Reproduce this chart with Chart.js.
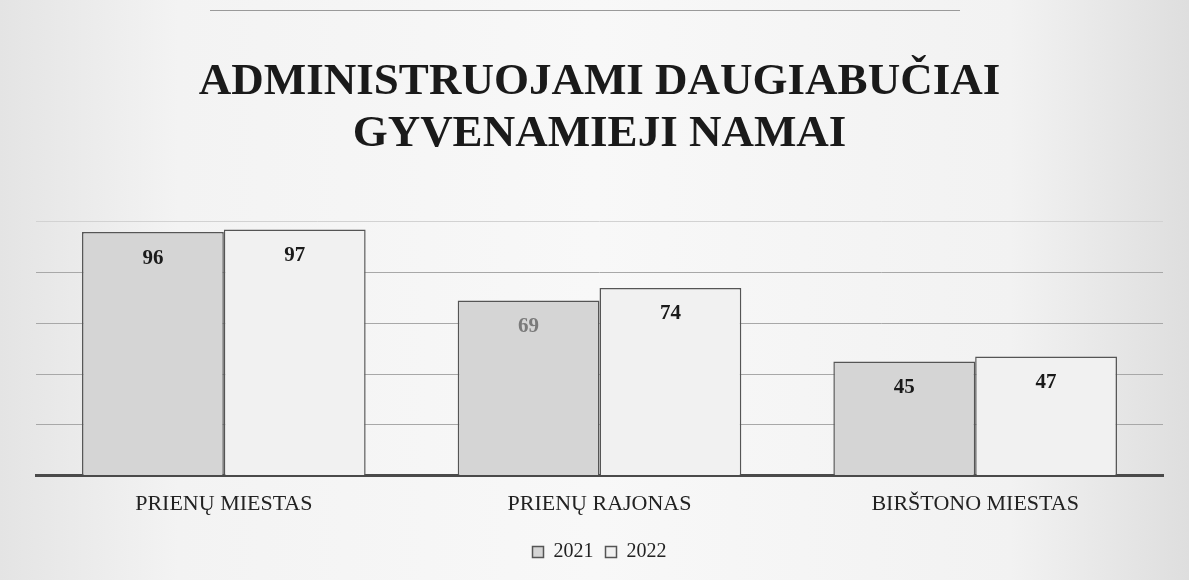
<!DOCTYPE html>
<html>
<head>
<meta charset="utf-8">
<script src="https://cdn.jsdelivr.net/npm/chart.js@4"></script>
<style>
  html, body { margin: 0; padding: 0; background: #eeeeee; }
  #wrap { width: 1189px; height: 580px; }
</style>
</head>
<body>
<div id="wrap"><canvas id="chart" width="1189" height="580"></canvas></div>
<script>
const categories = ['PRIENŲ MIESTAS', 'PRIENŲ RAJONAS', 'BIRŠTONO MIESTAS'];
const seriesNames = ['2021', '2022'];
const values2021 = [96, 69, 45];
const values2022 = [97, 74, 47];
const titleLines = ['ADMINISTRUOJAMI DAUGIABUČIAI', 'GYVENAMIEJI NAMAI'];

const serif = '"Liberation Serif", "Times New Roman", serif';

// scanned-paper background
const paperBg = {
    id: 'paperBg',
    beforeDraw(chart) {
        const c = chart.ctx;
        const w = chart.width, h = chart.height;
        const g = c.createLinearGradient(0, 0, w, 0);
        g.addColorStop(0, '#e4e4e4');
        g.addColorStop(0.15, '#f3f3f3');
        g.addColorStop(0.5, '#f8f8f8');
        g.addColorStop(0.85, '#f2f2f2');
        g.addColorStop(1, '#dedede');
        c.save();
        c.fillStyle = g;
        c.fillRect(0, 0, w, h);
        // thin line at the very top of the scan
        c.strokeStyle = '#9a9a9a';
        c.lineWidth = 1;
        c.beginPath();
        c.moveTo(210, 10.5);
        c.lineTo(960, 10.5);
        c.stroke();
        c.restore();
    }
};

// value labels inside the top of each bar
const barValues = {
    id: 'barValues',
    afterDatasetsDraw(chart) {
        const c = chart.ctx;
        c.save();
        c.font = 'bold 21px ' + serif;
        c.textAlign = 'center';
        c.textBaseline = 'middle';
        chart.data.datasets.forEach((ds, i) => {
            chart.getDatasetMeta(i).data.forEach((bar, j) => {
                c.fillStyle = (i === 0 && j === 1) ? '#7a7a7a' : '#1a1a1a';
                c.fillText(ds.data[j], bar.x, bar.y + 26);
            });
        });
        c.restore();
    }
};

new Chart(document.getElementById('chart'), {
    type: 'bar',
    data: {
        labels: categories,
        datasets: [{
            label: seriesNames[0],
            data: values2021,
            backgroundColor: '#d5d5d5',
            borderColor: '#555',
            borderWidth: 1.5,
            categoryPercentage: 0.755,
            barPercentage: 1
        }, {
            label: seriesNames[1],
            data: values2022,
            backgroundColor: '#f1f1f1',
            borderColor: '#555',
            borderWidth: 1.5,
            categoryPercentage: 0.755,
            barPercentage: 1
        }]
    },
    options: {
        responsive: false,
        animation: false,
        layout: {
            padding: { left: 36, right: 26, top: 56, bottom: 8 }
        },
        plugins: {
            title: {
                display: true,
                text: titleLines,
                color: '#1a1a1a',
                font: { family: serif, size: 45, weight: 'bold', lineHeight: 1.155 },
                padding: { top: 0, bottom: 62 }
            },
            legend: {
                position: 'bottom',
                labels: {
                    color: '#222',
                    font: { family: serif, size: 20 },
                    boxWidth: 11,
                    boxHeight: 11,
                    padding: 12,
                    useBorderRadius: false
                }
            },
            tooltip: { enabled: false }
        },
        scales: {
            x: {
                grid: { display: false, drawTicks: false },
                border: { display: true, color: '#4a4a4a', width: 3 },
                ticks: {
                    color: '#222',
                    font: { family: serif, size: 22 },
                    padding: 15
                },
                afterFit(scale) { scale.height -= 2; }
            },
            y: {
                min: 0,
                max: 100,
                ticks: { display: false, stepSize: 20 },
                grid: {
                    color: (ctx) => ctx.tick && ctx.tick.value === 100 ? '#d2d2d2' : '#a8a8a8',
                    lineWidth: 1,
                    drawTicks: false
                },
                border: { display: false }
            }
        }
    },
    plugins: [paperBg, barValues]
});
</script>
</body>
</html>
